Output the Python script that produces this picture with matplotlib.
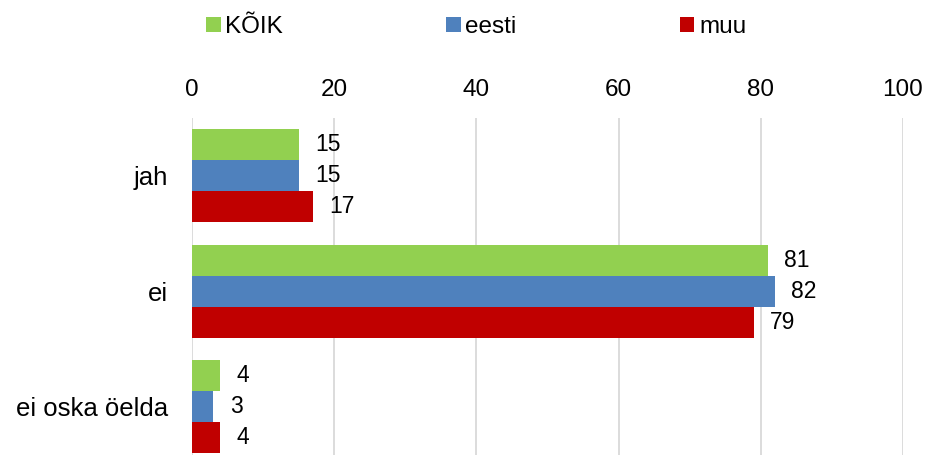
import numpy as np
import matplotlib.pyplot as plt

plt.rcParams['font.family'] = ['Liberation Sans', 'DejaVu Sans']

categories = ['jah', 'ei', 'ei oska öelda']
series_names = ['KÕIK', 'eesti', 'muu']
koik = [15, 81, 4]
eesti = [15, 82, 3]
muu = [17, 79, 4]
colors = ['#92D050', '#4F81BD', '#C00000']
xticks = [0, 20, 40, 60, 80, 100]

fig = plt.figure(figsize=(9.28, 4.55), dpi=100)
ax = fig.add_axes([192 / 928, -0.021, (903 - 192) / 928, 0.762])

y = np.arange(len(categories))
bar_h = 0.268
for i, (name, vals, col) in enumerate(zip(series_names, [koik, eesti, muu], colors)):
    pos = y + (i - 1) * bar_h
    ax.barh(pos, vals, height=bar_h, color=col, label=name, zorder=2)
    for p, v in zip(pos, vals):
        ax.text(v + 2.3, p, str(v), va='center', ha='left', fontsize=16.5)

ax.set_xlim(0, 100)
ax.set_ylim(len(categories) - 0.5, -0.5)
ax.set_xticks(xticks)
ax.xaxis.tick_top()
ax.tick_params(axis='x', length=0, labelsize=17.5, pad=12)
ax.set_yticks(y)
ax.set_yticklabels(categories)
ax.tick_params(axis='y', length=0, labelsize=18.5, pad=17)
ax.grid(axis='x', color='#D9D9D9', linewidth=1.3, zorder=0)
for s in ax.spines.values():
    s.set_visible(False)

fig.legend(loc='center left', bbox_to_anchor=(206 / 928, 1 - 27 / 455), ncol=3,
           frameon=False, fontsize=17.5, handlelength=0.6, handleheight=0.6,
           handletextpad=0.2, columnspacing=6.7, borderaxespad=0, borderpad=0)

fig.savefig('out.png', dpi=100)
